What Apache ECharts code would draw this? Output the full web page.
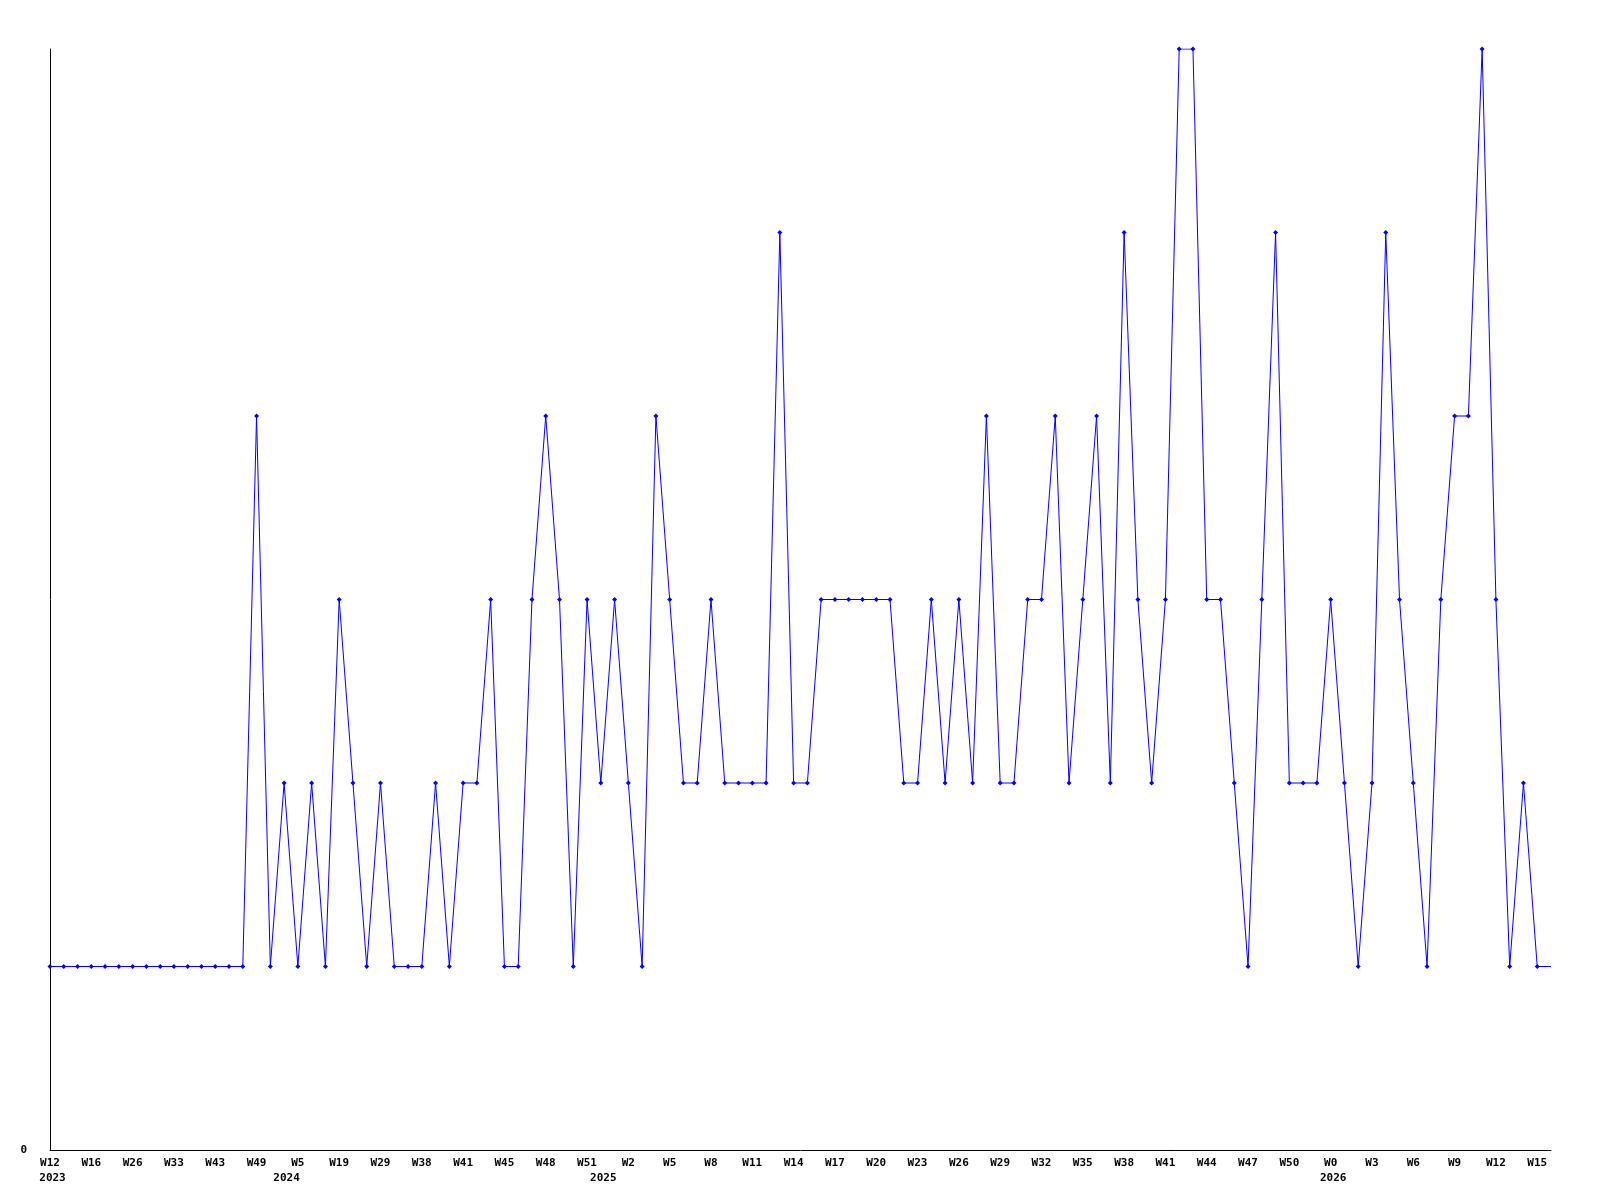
<!DOCTYPE html>
<html>
<head>
<meta charset="utf-8">
<script src="https://cdn.jsdelivr.net/npm/echarts@6/dist/echarts.min.js"></script>
<style>
    html, body { margin: 0; padding: 0; background: #fff; }
    #chart { width: 1600px; height: 1200px; }
</style>
</head>
<body>
<div id="chart"></div>
<script>
    // week labels, one per sample
    var weeks = [
        'W12', 'W13', 'W14', 'W16', 'W19', 'W22', 'W26', 'W28', 'W31', 'W33', 'W37', 'W40', 'W43', 'W45', 'W47', 'W49', 'W51',
        'W1', 'W5', 'W9', 'W14', 'W19', 'W22', 'W26', 'W29', 'W32', 'W35', 'W38', 'W39', 'W40', 'W41', 'W42', 'W43', 'W45', 'W46',
        'W47', 'W48', 'W49', 'W50', 'W51', 'W0', 'W1',
        'W2', 'W3', 'W4', 'W5', 'W6', 'W7', 'W8', 'W9', 'W10', 'W11', 'W12', 'W13', 'W14', 'W15', 'W16', 'W17', 'W18', 'W19',
        'W20', 'W21', 'W22', 'W23', 'W24', 'W25', 'W26', 'W27', 'W28', 'W29', 'W30', 'W31', 'W32', 'W33', 'W34', 'W35', 'W36',
        'W37', 'W38', 'W39', 'W40', 'W41', 'W42', 'W43', 'W44', 'W45', 'W46', 'W47', 'W48', 'W49', 'W50', 'W51', 'W52',
        'W0', 'W1', 'W2', 'W3', 'W4', 'W5', 'W6', 'W7', 'W8', 'W9', 'W10', 'W11', 'W12', 'W13', 'W14', 'W15', 'W16'
    ];

    var counts = [
        1, 1, 1, 1, 1, 1, 1, 1, 1, 1, 1, 1, 1, 1, 1, 4, 1,
        2, 1, 2, 1, 3, 2, 1, 2, 1, 1, 1, 2, 1, 2, 2, 3, 1, 1,
        3, 4, 3, 1, 3, 2, 3,
        2, 1, 4, 3, 2, 2, 3, 2, 2, 2, 2, 5, 2, 2, 3, 3, 3, 3,
        3, 3, 2, 2, 3, 2, 3, 2, 4, 2, 2, 3, 3, 4, 2, 3, 4,
        2, 5, 3, 2, 3, 6, 6, 3, 3, 2, 1, 3, 5, 2, 2, 2,
        3, 2, 1, 2, 5, 3, 2, 1, 3, 4, 4, 6, 3, 1, 2, 1, 1
    ];

    // year captions and the sample they sit under
    var years = ['2023', '2024', '2025', '2026'];
    var yearAt = [0, 17, 40, 93];

    var font = 'DejaVu Sans Mono';

    var chart = echarts.init(document.getElementById('chart'));

    var seriesData = counts.map(function (v, i) {
        // last sample only carries the line to the edge, no marker
        if (i === counts.length - 1) {
            return { value: v, symbol: 'none' };
        }
        return v;
    });

    var option = {
        animation: false,
        backgroundColor: '#ffffff',
        grid: { left: 50, right: 49, top: 49, bottom: 50 },
        xAxis: [
            {
                type: 'category',
                data: weeks,
                boundaryGap: false,
                axisLine: { lineStyle: { color: '#000', width: 1 } },
                axisTick: { show: false },
                axisLabel: {
                    interval: 2,
                    margin: 8,
                    color: '#000',
                    fontFamily: font,
                    fontWeight: 'bold',
                    fontSize: 11
                },
                splitLine: { show: false }
            },
            {
                type: 'category',
                data: weeks,
                position: 'bottom',
                boundaryGap: false,
                axisLine: { show: false },
                axisTick: { show: false },
                axisLabel: {
                    interval: function (idx) { return yearAt.indexOf(idx) >= 0; },
                    formatter: function (val, idx) {
                        var k = yearAt.indexOf(idx);
                        return k >= 0 ? years[k] : '';
                    },
                    margin: 23,
                    padding: [0, 0, 0, 5],
                    color: '#000',
                    fontFamily: font,
                    fontWeight: 'bold',
                    fontSize: 11
                },
                splitLine: { show: false }
            }
        ],
        yAxis: {
            type: 'value',
            min: 0,
            max: 6,
            interval: 6,
            axisLine: { show: true, lineStyle: { color: '#000', width: 1 } },
            axisTick: { show: false },
            splitLine: { show: false },
            axisLabel: {
                showMaxLabel: false,
                margin: 23,
                color: '#000',
                fontFamily: font,
                fontWeight: 'bold',
                fontSize: 11
            }
        },
        series: [
            {
                type: 'line',
                data: seriesData,
                xAxisIndex: 0,
                symbol: 'diamond',
                symbolSize: 5,
                showAllSymbol: true,
                lineStyle: { color: '#0000ff', width: 1 },
                itemStyle: { color: '#0000ff' }
            }
        ]
    };

    chart.setOption(option);
</script>
</body>
</html>
